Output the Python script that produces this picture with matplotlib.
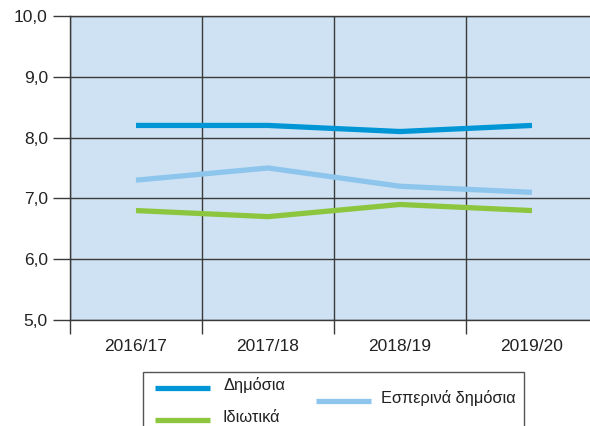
import matplotlib
matplotlib.use("Agg")
import matplotlib.pyplot as plt
from matplotlib.lines import Line2D
from matplotlib.patches import Rectangle
import numpy as np

plt.rcParams['font.family'] = ['Liberation Sans', 'DejaVu Sans']

# school years and average values per school type
years = ["2016/17", "2017/18", "2018/19", "2019/20"]
public = [8.2, 8.2, 8.1, 8.2]
private = [6.8, 6.7, 6.9, 6.8]
evening = [7.3, 7.5, 7.2, 7.1]

series_names = ["Δημόσια", "Ιδιωτικά", "Εσπερινά δημόσια"]
series_colors = ["#0096d6", "#8cc63f", "#8ec5ec"]

grid_col = "#3a3a3a"
bg_col = "#cfe2f3"

fig = plt.figure(figsize=(5.9, 4.26), dpi=100)
# axes runs a little past the right edge of the figure
ax = fig.add_axes([70 / 590, 106 / 426, 528 / 590, 304 / 426])
ax.set_facecolor(bg_col)

x = np.arange(len(years))
ax.plot(x, public, color=series_colors[0], lw=3.8, solid_capstyle="butt", zorder=3)
ax.plot(x, private, color=series_colors[1], lw=3.8, solid_capstyle="butt", zorder=3)
ax.plot(x, evening, color=series_colors[2], lw=3.8, solid_capstyle="butt", zorder=3)

ax.set_xlim(-0.5, len(years) - 0.5)
ax.set_ylim(5.0, 10.0)

# y axis: gridlines with outward ticks, comma decimals
yt = np.arange(5, 11, 1.0)
ax.set_yticks(yt)
ax.set_yticklabels([f"{v:.1f}".replace(".", ",") for v in yt])
ax.tick_params(axis="y", length=12, width=1, color=grid_col, pad=4,
               labelsize=12.5, labelcolor="#222222")

# x axis: separators between years, labels centred in each cell
ax.set_xticks(np.arange(-0.5, len(years), 1.0))
ax.set_xticklabels([])
ax.set_xticks(x, minor=True)
ax.set_xticklabels(years, minor=True)
ax.tick_params(axis="x", which="major", length=10, width=1, color=grid_col)
ax.tick_params(axis="x", which="minor", length=0, pad=14,
               labelsize=12.5, labelcolor="#222222")

ax.grid(True, which="major", color=grid_col, lw=1, zorder=1)
ax.set_axisbelow(True)
ax.spines["right"].set_visible(False)
for s in ["top", "bottom", "left"]:
    ax.spines[s].set_color(grid_col)
    ax.spines[s].set_linewidth(1)

# legend box, cut by the bottom of the figure
W, H = 590, 426
def fx(px):
    return px / W
def fy(py):
    return 1 - py / H

fig.patches.append(Rectangle((fx(143), fy(440)), fx(524) - fx(143), fy(372) - fy(440),
                             transform=fig.transFigure, facecolor="white",
                             edgecolor="#555555", lw=1))
entries = [(155, 388, 223), (155, 420, 223), (316, 401, 381)]
for (lx, ly, tx), name, col in zip(entries, series_names, series_colors):
    fig.lines.append(Line2D([fx(lx), fx(lx + 55)], [fy(ly), fy(ly)],
                            transform=fig.transFigure, color=col, lw=3.8,
                            solid_capstyle="butt"))
    fig.text(fx(tx), fy(ly - 3), name, fontsize=11.8, color="#222222",
             va="center", ha="left")

fig.savefig("out.png", dpi=100)
